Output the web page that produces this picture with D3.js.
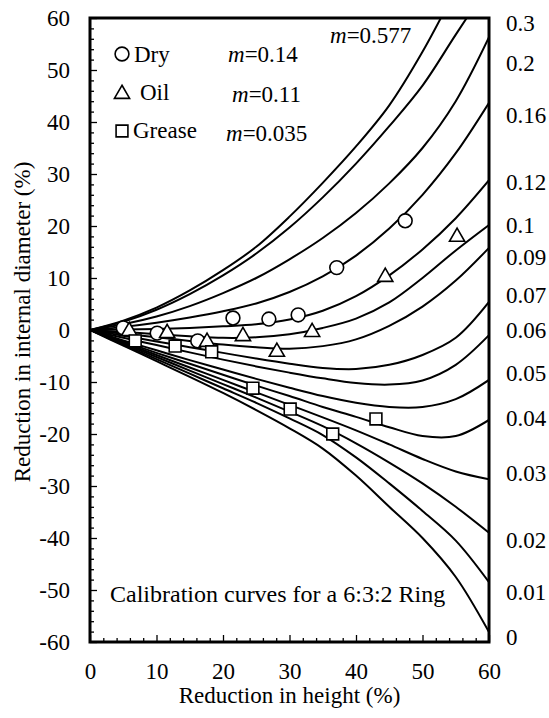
<!DOCTYPE html>
<html>
<head>
<meta charset="utf-8">
<script src="https://cdn.jsdelivr.net/npm/d3@7"></script>
<style>
  body { margin: 0; background: #fff; }
  svg text { font-family: "Liberation Serif", "Times New Roman", serif; fill: #000; }
</style>
</head>
<body>
<svg id="chart" width="549" height="718"></svg>
<script>
// reduction in height (%) where each calibration curve is sampled
const xGrid = [0, 5, 10, 15, 20, 25, 30, 35, 40, 45, 50, 55, 60];

// reduction in internal diameter (%) for each friction factor m
const m0577 = [0, 1.8, 4.3, 7.6, 11.5, 16, 21.8, 28.3, 35.3, 43.2, 53.5, 65.5, 78];
const m030  = [0, 1.6, 3.9, 6.9, 10.5, 14.7, 19.7, 25.5, 32, 39.2, 47, 56.8, 66.5];
const m020  = [0, 1.1, 2.6, 4.6, 7.1, 10, 13.6, 17.7, 22.5, 28.2, 35, 44, 56.3];
const m016  = [0, 0.6, 1.4, 2.4, 3.6, 5.1, 7.3, 10.3, 14.3, 19.5, 26, 34, 43.7];
const m012  = [0, 0.1, 0.2, 0.4, 0.7, 1.1, 2, 3.7, 6.5, 10.5, 15.5, 21.5, 28.8];
const m010  = [0, -0.4, -0.8, -1.2, -1.5, -1.4, -0.8, 0.4, 2.2, 5.3, 10, 15.3, 20.2];
const m009  = [0, -0.7, -1.4, -2.1, -2.8, -3.3, -3.6, -3.1, -1.8, 0.8, 4.5, 9.5, 15.8];
const m007  = [0, -1.1, -2.2, -3.3, -4.4, -5.5, -6.5, -7.3, -7.5, -6.7, -4.8, -1.5, 5.4];
const m006  = [0, -1.5, -2.9, -4.3, -5.7, -7, -8.2, -9.3, -10.2, -10.5, -9.7, -6.7, -1];
const m005  = [0, -2, -3.9, -5.8, -7.6, -9.4, -11.1, -12.7, -14, -14.8, -14.8, -13.3, -9.6];
const m004  = [0, -2.2, -4.4, -6.5, -8.6, -10.7, -12.7, -14.8, -16.7, -18.7, -20.4, -20.4, -17.3];
const m003  = [0, -2.4, -4.8, -7.2, -9.6, -12, -14.4, -16.8, -19.3, -22, -24.8, -27.2, -28.7];
const m002  = [0, -2.6, -5.2, -7.8, -10.4, -13, -15.7, -18.5, -21.8, -25.5, -29.5, -34, -39];
const m001  = [0, -2.8, -5.6, -8.4, -11.2, -14, -17, -20.2, -24.5, -29.5, -34.8, -40.5, -48.5];
const m000  = [0, -3, -6, -9, -12.1, -15.4, -18.9, -22.8, -28, -34, -40, -47.5, -58.1];

const curves = [m0577, m030, m020, m016, m012, m010, m009, m007, m006, m005, m004, m003, m002, m001, m000];

// right-hand labels of the curves and the height (in y units) at which each is written
const rightLabels = ['0.3', '0.2', '0.16', '0.12', '0.1', '0.09', '0.07', '0.06', '0.05', '0.04', '0.03', '0.02', '0.01', '0'];
const rightLabelY = [59, 51.3, 41.3, 28.5, 20.2, 14, 6.7, 0, -8.3, -16.9, -27.5, -40.4, -50.4, -59];

// measured points
const dryX = [5, 10.1, 16.2, 21.5, 26.9, 31.3, 37.1, 47.4];
const dryY = [0.4, -0.6, -2.1, 2.3, 2.1, 2.9, 12, 21];
const oilX = [5.9, 11.6, 17.6, 23, 28.1, 33.4, 44.4, 55.2];
const oilY = [-0.2, -0.6, -2.3, -1.2, -4.2, -0.4, 10.2, 17.9];
const greaseX = [6.8, 12.8, 18.3, 24.5, 30.1, 36.5, 43];
const greaseY = [-2.1, -3.1, -4.2, -11.2, -15.2, -20, -17.1];

const legendNames = ['Dry', 'Oil', 'Grease'];
const legendM = ['0.14', '0.11', '0.035'];

const xTicks = [0, 10, 20, 30, 40, 50, 60];
const yTicks = [-60, -50, -40, -30, -20, -10, 0, 10, 20, 30, 40, 50, 60];

const svg = d3.select('#chart');
const plotLeft = 90, plotRight = 489, plotTop = 18, plotBottom = 642;
const fontSize = 23;

const x = d3.scaleLinear().domain([0, 60]).range([plotLeft, plotRight]);
const y = d3.scaleLinear().domain([-60, 60]).range([plotBottom, plotTop]);

svg.append('defs').append('clipPath').attr('id', 'plot-clip')
    .append('rect')
    .attr('x', plotLeft).attr('y', plotTop)
    .attr('width', plotRight - plotLeft).attr('height', plotBottom - plotTop);

// minor ticks every 2
const minorX = d3.range(0, 61, 2).filter(v => v % 10 !== 0);
const minorY = d3.range(-60, 61, 2).filter(v => v % 10 !== 0);

svg.append('g')
    .attr('transform', `translate(0,${plotBottom})`)
    .call(d3.axisBottom(x).tickValues(xTicks).tickSizeInner(-7).tickSizeOuter(0)
        .tickPadding(21).tickFormat(d => String(d)));
svg.append('g')
    .attr('transform', `translate(0,${plotBottom})`)
    .call(d3.axisBottom(x).tickValues(minorX).tickSizeInner(-4).tickSizeOuter(0).tickFormat(''));

svg.append('g')
    .attr('transform', `translate(${plotLeft},0)`)
    .call(d3.axisLeft(y).tickValues(yTicks).tickSizeInner(-7).tickSizeOuter(0)
        .tickPadding(20).tickFormat(d => String(d)));
svg.append('g')
    .attr('transform', `translate(${plotLeft},0)`)
    .call(d3.axisLeft(y).tickValues(minorY).tickSizeInner(-4).tickSizeOuter(0).tickFormat(''));

svg.selectAll('.domain').remove();
svg.selectAll('.tick line').attr('stroke', '#000').attr('stroke-width', 1.3);
svg.selectAll('.tick text')
    .style('font-size', fontSize + 'px')
    .style('font-family', '"Liberation Serif", "Times New Roman", serif');

// calibration curves
const line = d3.line()
    .x((d, i) => x(xGrid[i]))
    .y(d => y(d))
    .curve(d3.curveCatmullRom.alpha(0.5));

svg.append('g')
    .attr('clip-path', 'url(#plot-clip)')
    .selectAll('path')
    .data(curves)
    .enter()
    .append('path')
    .attr('d', line)
    .attr('fill', 'none')
    .attr('stroke', '#000')
    .attr('stroke-width', 2);

// measured points
const markerStyle = sel => sel.attr('fill', '#fff').attr('stroke', '#000').attr('stroke-width', 1.6);

svg.append('g').selectAll('path')
    .data(dryX)
    .enter()
    .append('path')
    .attr('d', d3.symbol(d3.symbolCircle, 150)())
    .attr('transform', (d, i) => `translate(${x(d)},${y(dryY[i])})`)
    .call(markerStyle);

svg.append('g').selectAll('path')
    .data(oilX)
    .enter()
    .append('path')
    .attr('d', d3.symbol(d3.symbolTriangle, 100)())
    .attr('transform', (d, i) => `translate(${x(d)},${y(oilY[i])})`)
    .call(markerStyle);

svg.append('g').selectAll('path')
    .data(greaseX)
    .enter()
    .append('path')
    .attr('d', d3.symbol(d3.symbolSquare, 140)())
    .attr('transform', (d, i) => `translate(${x(d)},${y(greaseY[i])})`)
    .call(markerStyle);

// frame
svg.append('rect')
    .attr('x', plotLeft).attr('y', plotTop)
    .attr('width', plotRight - plotLeft).attr('height', plotBottom - plotTop)
    .attr('fill', 'none')
    .attr('stroke', '#000')
    .attr('stroke-width', 3);

// right labels
svg.append('g').selectAll('text')
    .data(rightLabels)
    .enter()
    .append('text')
    .attr('x', 506)
    .attr('y', (d, i) => y(rightLabelY[i]))
    .attr('dy', '0.35em')
    .style('font-size', fontSize + 'px')
    .text(d => d);

// legend
const legendSymbols = [d3.symbolCircle, d3.symbolTriangle, d3.symbolSquare];
const legendSizes = [150, 100, 140];
const legendRowY = [54, 94, 131];
const legendTextX = [134, 140, 133];
const legendTextY = [62, 100, 138];
const legendMX = [228, 232, 226];
const legendMY = [62, 102, 141];

legendNames.forEach((name, i) => {
    svg.append('path')
        .attr('d', d3.symbol(legendSymbols[i], legendSizes[i])())
        .attr('transform', `translate(122,${legendRowY[i]})`)
        .call(markerStyle);
    svg.append('text')
        .attr('x', legendTextX[i])
        .attr('y', legendTextY[i])
        .style('font-size', fontSize + 'px')
        .text(name);
    const t = svg.append('text')
        .attr('x', legendMX[i])
        .attr('y', legendMY[i])
        .style('font-size', fontSize + 'px');
    t.append('tspan').style('font-style', 'italic').text('m');
    t.append('tspan').text('=' + legendM[i]);
});

const topLabel = svg.append('text')
    .attr('x', 330)
    .attr('y', 43)
    .style('font-size', fontSize + 'px');
topLabel.append('tspan').style('font-style', 'italic').text('m');
topLabel.append('tspan').text('=0.577');

svg.append('text')
    .attr('x', 110)
    .attr('y', 602)
    .style('font-size', '24px')
    .text('Calibration curves for a 6:3:2 Ring');

// axis titles
svg.append('text')
    .attr('x', (plotLeft + plotRight) / 2)
    .attr('y', 703)
    .attr('text-anchor', 'middle')
    .style('font-size', fontSize + 'px')
    .text('Reduction in height (%)');

svg.append('text')
    .attr('transform', 'translate(30,322) rotate(-90)')
    .attr('text-anchor', 'middle')
    .style('font-size', fontSize + 'px')
    .text('Reduction in internal diameter (%)');
</script>
</body>
</html>
